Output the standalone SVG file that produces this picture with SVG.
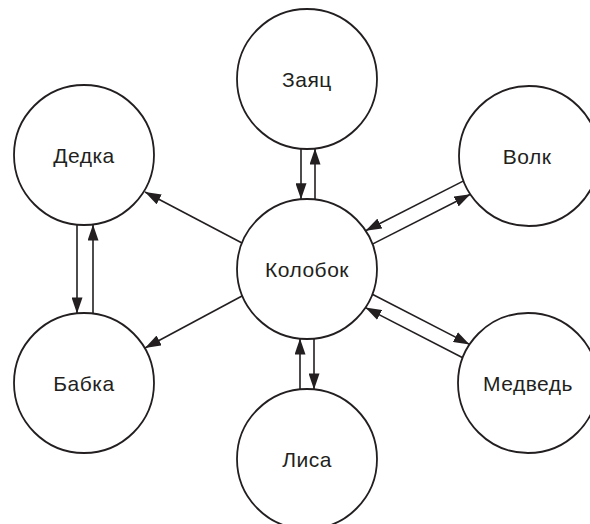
<svg xmlns="http://www.w3.org/2000/svg" width="590" height="524" viewBox="0 0 590 524">
  <defs>
    <style>
      .node circle { fill: #ffffff; stroke: #231f20; stroke-width: 1.8; }
      .node text { font-family: "Liberation Sans", Arial, sans-serif; font-size: 21px; letter-spacing: 0.5px; fill: #231f20; text-anchor: middle; }
      .edges line { stroke: #231f20; stroke-width: 1.6; fill: none; marker-end: url(#arrow); }
    </style>
    <marker id="arrow" markerUnits="userSpaceOnUse" markerWidth="17" markerHeight="11" refX="16" refY="5.5" orient="auto">
      <path d="M0,0 L16,5.5 L0,11 Z" fill="#231f20"/>
    </marker>
  </defs>
  <rect width="590" height="524" fill="#ffffff"/>

  <g class="edges">
    <line x1="301" y1="148.7" x2="301" y2="199.3"/>
    <line x1="315" y1="199.5" x2="315" y2="148.5"/>
    <line x1="314" y1="338.6" x2="314" y2="389.4"/>
    <line x1="300" y1="389.4" x2="300" y2="338.6"/>
    <line x1="77" y1="224.6" x2="77" y2="313.4"/>
    <line x1="93" y1="313.4" x2="93" y2="224.6"/>
    <line x1="242" y1="243" x2="145" y2="192"/>
    <line x1="242" y1="296" x2="145" y2="348"/>
    <line x1="463.6" y1="180.9" x2="365.6" y2="230.8"/>
    <line x1="372.4" y1="244.1" x2="470.4" y2="194.3"/>
    <line x1="372.3" y1="294.2" x2="469.6" y2="344.4"/>
    <line x1="462.7" y1="357.8" x2="365.4" y2="307.6"/>
  </g>

  <g id="zayats" class="node">
    <circle cx="307" cy="79" r="70"/>
    <text x="307" y="87">Заяц</text>
  </g>
  <g id="dedka" class="node">
    <circle cx="84" cy="155" r="70"/>
    <text x="84" y="163">Дедка</text>
  </g>
  <g id="volk" class="node">
    <circle cx="529" cy="156" r="70"/>
    <text x="527" y="164">Волк</text>
  </g>
  <g id="kolobok" class="node">
    <circle cx="307" cy="269" r="70"/>
    <text x="307" y="277">Колобок</text>
  </g>
  <g id="babka" class="node">
    <circle cx="84" cy="383" r="70"/>
    <text x="84" y="391">Бабка</text>
  </g>
  <g id="medved" class="node">
    <circle cx="528" cy="383" r="70"/>
    <text x="528" y="391">Медведь</text>
  </g>
  <g id="lisa" class="node">
    <circle cx="307" cy="459" r="70"/>
    <text x="307" y="467">Лиса</text>
  </g>
</svg>
